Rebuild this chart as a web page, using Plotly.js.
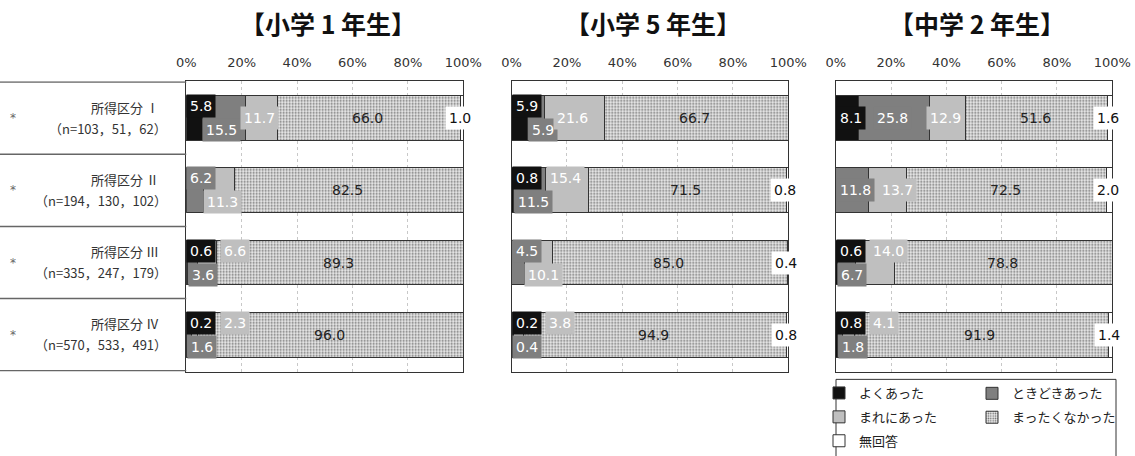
<!DOCTYPE html>
<html>
<head>
<meta charset="utf-8">
<script src="https://cdn.plot.ly/plotly-3.0.1.min.js"></script>
<style>
  html, body { margin: 0; padding: 0; background: #fff; }
  #plot { width: 1135px; height: 456px; }
</style>
</head>
<body>
<div id="plot"></div>
<script>
const groupTitles = ['【小学 1 年生】', '【小学 5 年生】', '【中学 2 年生】']
const rows = ['所得区分Ⅰ', '所得区分Ⅱ', '所得区分Ⅲ', '所得区分Ⅳ']
const rowCounts = ['（n=103，51，62）', '（n=194，130，102）', '（n=335，247，179）', '（n=570，533，491）']
const answers = ['よくあった', 'ときどきあった', 'まれにあった', 'まったくなかった', '無回答']

// 小学1年生
const e1Often = [5.8, 0, 0.6, 0.2]
const e1Sometimes = [15.5, 6.2, 3.6, 1.6]
const e1Rarely = [11.7, 11.3, 6.6, 2.3]
const e1Never = [66.0, 82.5, 89.3, 96.0]
const e1NoAnswer = [1.0, 0, 0, 0]

// 小学5年生
const e5Often = [5.9, 0.8, 0, 0.2]
const e5Sometimes = [5.9, 11.5, 4.5, 0.4]
const e5Rarely = [21.6, 15.4, 10.1, 3.8]
const e5Never = [66.7, 71.5, 85.0, 94.9]
const e5NoAnswer = [0, 0.8, 0.4, 0.8]

// 中学2年生
const m2Often = [8.1, 0, 0.6, 0.8]
const m2Sometimes = [25.8, 11.8, 6.7, 1.8]
const m2Rarely = [12.9, 13.7, 14.0, 4.1]
const m2Never = [51.6, 72.5, 78.8, 91.9]
const m2NoAnswer = [1.6, 2.0, 0, 1.4]

const panels = [
  [e1Often, e1Sometimes, e1Rarely, e1Never, e1NoAnswer],
  [e5Often, e5Sometimes, e5Rarely, e5Never, e5NoAnswer],
  [m2Often, m2Sometimes, m2Rarely, m2Never, m2NoAnswer],
]

// label lanes: u = upper half, d = lower half, c = centred
const labelLanes = [
  [['u', 'd', 'c', 'c', 'c'], ['u', 'u', 'd', 'c', 'c'], ['u', 'd', 'u', 'c', 'c'], ['u', 'd', 'u', 'c', 'c']],
  [['u', 'd', 'c', 'c', 'c'], ['u', 'd', 'u', 'c', 'c'], ['u', 'u', 'd', 'c', 'c'], ['u', 'd', 'u', 'c', 'c']],
  [['c', 'c', 'c', 'c', 'c'], ['c', 'c', 'c', 'c', 'c'], ['u', 'd', 'u', 'c', 'c'], ['u', 'd', 'u', 'c', 'c']],
]

const W = 1135
const H = 456
const FONT = '"DejaVu Sans", "Noto Sans CJK JP", sans-serif'
const CJK = '"Noto Sans CJK JP", sans-serif'
const domains = [[0.1641, 0.4082], [0.4508, 0.6945], [0.7363, 0.98]]
const yDomain = [0.1689, 0.818]
const fills = ['#111111', '#7f7f7f', '#bfbfbf', '#ffffff', '#ffffff']
const labelBg = ['#111111', '#7f7f7f', '#bfbfbf', 'rgba(0,0,0,0)', '#ffffff']
const labelFg = ['#ffffff', '#ffffff', '#ffffff', '#222222', '#111111']
const legendOf = ['legend', 'legend2', 'legend', 'legend2', 'legend']

const axSuffix = p => (p === 0 ? '' : String(p + 1))

const traces = []
panels.forEach((series, p) => {
  series.forEach((vals, a) => {
    const marker = {color: fills[a], line: {color: '#333', width: 1}}
    if (a === 3) {
      marker.pattern = {shape: '.', fgcolor: '#6a6a6a', bgcolor: '#ebebeb', size: 3, solidity: 0.3}
    }
    traces.push({
      type: 'bar',
      orientation: 'h',
      name: answers[a],
      y: rows,
      x: vals,
      xaxis: 'x' + axSuffix(p),
      yaxis: 'y' + axSuffix(p),
      marker,
      showlegend: p === 0,
      legend: legendOf[a],
      legendgroup: answers[a],
      hoverinfo: 'skip',
    })
  })
})

const annotations = []
const shapes = []

// titles
groupTitles.forEach((t, p) => {
  annotations.push({
    text: '<b>' + t + '</b>', xref: 'paper', yref: 'paper',
    x: (domains[p][0] + domains[p][1]) / 2 + 3 / W, y: 1 - 23 / H,
    xanchor: 'center', yanchor: 'middle', showarrow: false,
    font: {size: 25, color: '#111', family: CJK},
  })
})

// left table
rows.forEach((r, i) => {
  annotations.push({
    text: r.slice(0, 4) + ' ' + r.slice(4), xref: 'paper', yref: 'y', x: 161 / W, y: r, yshift: 11,
    xanchor: 'right', yanchor: 'middle', showarrow: false,
    font: {size: 13, color: '#333', family: CJK},
  })
  annotations.push({
    text: rowCounts[i], xref: 'paper', yref: 'y', x: 169 / W, y: r, yshift: -10,
    xanchor: 'right', yanchor: 'middle', showarrow: false,
    font: {size: 13, color: '#333', family: CJK},
  })
  annotations.push({
    text: '*', xref: 'paper', yref: 'y', x: 13 / W, y: r, yshift: 0,
    xanchor: 'center', yanchor: 'middle', showarrow: false,
    font: {size: 12, color: '#666'},
  })
})
for (let k = 0; k <= rows.length; k++) {
  shapes.push({
    type: 'line', xref: 'paper', yref: 'y', x0: 0, x1: domains[0][0],
    y0: k - 0.5, y1: k - 0.5, line: {color: '#666', width: 1.5},
  })
}

// value labels
panels.forEach((series, p) => {
  const pxPerPct = ((domains[p][1] - domains[p][0]) * W) / 100
  rows.forEach((r, i) => {
    let start = 0
    const cursor = {u: 0, d: 0, c: 0}
    series.forEach((vals, a) => {
      const v = vals[i]
      const segStart = start
      start += v
      if (!v) return
      const txt = v.toFixed(1)
      const boxPct = (txt.length * 8.5 + 8) / pxPerPct
      const lane = labelLanes[p][i][a]
      const ann = {
        text: txt, xref: 'x' + axSuffix(p), yref: 'y' + axSuffix(p), y: r,
        xanchor: 'left', yanchor: 'middle', showarrow: false, bgcolor: labelBg[a], borderpad: 3,
        font: {size: 14, color: labelFg[a]},
      }
      let left
      if (lane === 'c') {
        left = Math.max(segStart + v / 2 - boxPct / 2, cursor.c, 0)
      } else {
        left = Math.max(segStart, cursor[lane])
        ann.yshift = lane === 'u' ? 12 : -12
      }
      cursor[lane] = left + boxPct
      ann.x = left
      annotations.push(ann)
    })
  })
})

// legend frame
shapes.push({
  type: 'rect', xref: 'paper', yref: 'paper',
  x0: 836 / W, x1: 1116 / W, y0: 1 - 387 / H, y1: 1 - 470 / H,
  line: {color: '#333', width: 1}, fillcolor: 'rgba(0,0,0,0)',
})

const legendBase = {
  y: 1 - 386 / H, xanchor: 'left', yanchor: 'top', orientation: 'v',
  traceorder: 'grouped', bgcolor: 'rgba(0,0,0,0)', itemwidth: 30,
  font: {size: 13, color: '#222', family: CJK}, tracegroupgap: 4,
}

const layout = {
  width: W,
  height: H,
  margin: {l: 0, r: 0, t: 0, b: 0},
  paper_bgcolor: '#fff',
  plot_bgcolor: '#fff',
  font: {family: FONT, size: 13, color: '#333'},
  barmode: 'stack',
  bargap: 0.38,
  annotations,
  shapes,
  legend: Object.assign({x: 819 / W}, legendBase),
  legend2: Object.assign({x: 972 / W}, legendBase),
}

panels.forEach((_, p) => {
  const s = axSuffix(p)
  layout['xaxis' + s] = {
    domain: domains[p], anchor: 'y' + s, side: 'top', range: [0, 100], dtick: 20,
    ticksuffix: '%', showline: true, mirror: true, linecolor: '#333', linewidth: 1,
    showgrid: true, gridcolor: '#c8c8c8', griddash: '3px,3px', zeroline: false,
    ticks: '', ticklabelstandoff: 8, tickfont: {size: 13, color: '#333'}, fixedrange: true,
  }
  layout['yaxis' + s] = {
    domain: yDomain, anchor: 'x' + s, type: 'category', autorange: 'reversed',
    showticklabels: false, showline: true, mirror: true, linecolor: '#333', linewidth: 1,
    showgrid: false, zeroline: false, ticks: '', fixedrange: true,
  }
  if (p > 0) layout['yaxis' + s].matches = 'y'
})

Plotly.newPlot('plot', traces, layout, {displayModeBar: false, staticPlot: true})
</script>
</body>
</html>
